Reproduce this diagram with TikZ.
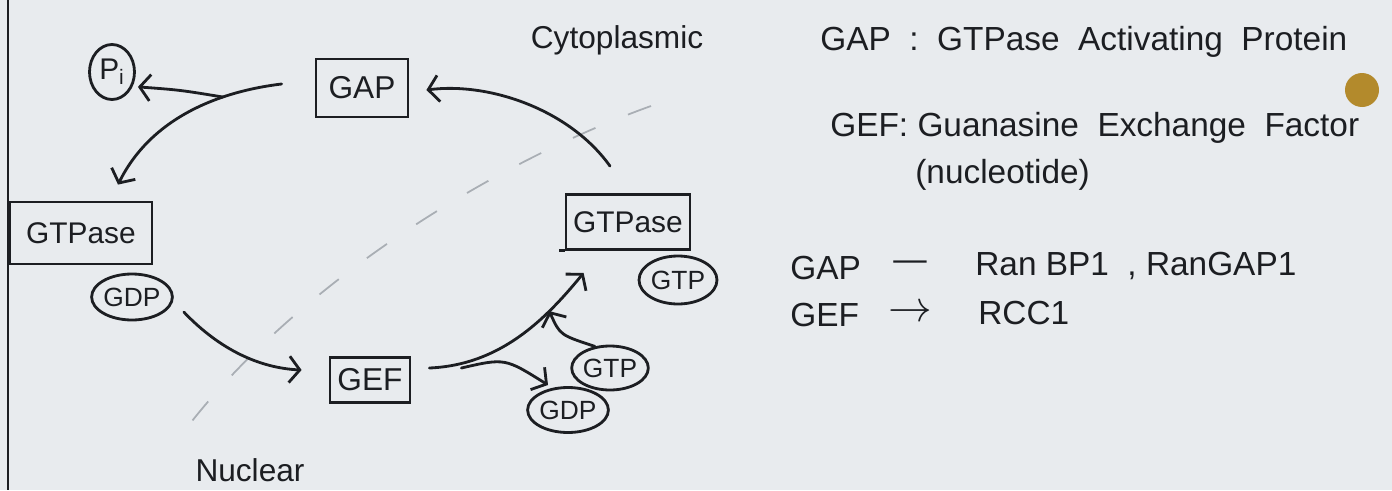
\documentclass[tikz,border=0pt]{standalone}
\usepackage{fontspec}
\setmainfont{Liberation Sans}
\usetikzlibrary{arrows.meta,shapes.geometric,calc}
\definecolor{paper}{HTML}{E8EBEE}
\definecolor{inkc}{HTML}{1C1E22}
\definecolor{goldc}{HTML}{B38A2C}
\definecolor{dashc}{HTML}{A9AEB4}
\begin{document}
\begin{tikzpicture}[x=0.02cm,y=-0.02cm,
  every node/.style={text=inkc},
  pen/.style={draw=inkc,line width=1.6pt},
  boxnode/.style={pen,rectangle,inner sep=0pt,font=\fontsize{18}{20}\selectfont},
  oval/.style={pen,ellipse,inner sep=0pt,font=\fontsize{15}{18}\selectfont},
  arr/.style={pen,-{Straight Barb[length=6pt,width=15pt]},line cap=round},
  lbl/.style={font=\fontsize{19}{22}\selectfont,inner sep=0pt},
]
\fill[paper] (0,0) rectangle (1392,490);
\useasboundingbox (0,0) rectangle (1392,490);

% margin line
\draw[pen] (8,0) -- (8,490);

% faint dashed separator
\draw[dashc,line width=1pt,dash pattern=on 14pt off 20pt]
  (651,106) .. controls (500,160) and (300,280) .. (185,430);

% nodes
\node[boxnode,minimum width=1.84cm,minimum height=1.16cm] (gap) at (362,88) {GAP};
\node[oval,minimum width=0.9cm,minimum height=1.1cm,font=\fontsize{17}{20}\selectfont] (pi) at (112,72) {P\textsubscript{i}};
\node[boxnode,minimum width=2.84cm,minimum height=1.24cm,font=\fontsize{17}{20}\selectfont] (gtl) at (81,233) {GTPase};
\node[oval,minimum width=1.44cm,minimum height=0.92cm] (gdl) at (132,297) {GDP};
\node[boxnode,minimum width=1.6cm,minimum height=0.9cm] (gef) at (370,380) {GEF};
\node[boxnode,minimum width=2.48cm,minimum height=1.1cm,font=\fontsize{17}{20}\selectfont] (gtr) at (628,222) {GTPase};
\draw[pen] (gtr.south west) -- ++(-6,0);
\node[oval,minimum width=1.56cm,minimum height=0.96cm] (gtpr) at (678,280) {GTP};
\node[oval,minimum width=1.44cm,minimum height=0.88cm] (gtpl) at (610,368) {GTP};
\node[oval,minimum width=1.52cm,minimum height=0.9cm] (gdpr) at (568,410) {GDP};

% labels
\node[lbl,font=\fontsize{18}{21}\selectfont] (cyto) at (617,40) {Cytoplasmic};
\node[lbl,font=\fontsize{18}{21}\selectfont] (nuc) at (250,470) {Nuclear};

% connector endpoints
\coordinate (a1) at ($(gap.west)+(-33,-4)$);
\coordinate (a2) at ($(gtl.north)+(37,-16)$);
\coordinate (b1) at ($(gdl.east)+(10,15)$);
\coordinate (b2) at ($(gef.west)+(-27,-10)$);
\coordinate (c1) at ($(gef.east)+(18,-12)$);
\coordinate (c2) at ($(gtr.south west)+(19,22)$);
\coordinate (d1) at ($(gtr.north)+(-18,-27)$);
\coordinate (d2) at ($(gap.east)+(17,2)$);

% GAP -> GTPase (left), branch to Pi
\draw[arr] (a1) .. controls (215,92) and (150,120) .. node[coordinate,pos=0.3] (br1) {} (a2);
\draw[arr,shorten >=3pt] (br1) .. controls (180,90) .. (pi.-35);

% GDP -> GEF
\draw[arr] (b1) .. controls (220,350) and (260,368) .. (b2);

% GEF -> GTPase (right), branch to GDP, GTP in
\draw[arr] (c1) .. controls (500,365) and (545,320) .. node[coordinate,pos=0.72] (br3) {} (c2);
\draw[arr,shorten >=3pt] ($(c1)+(32,0)$) .. controls (505,358) .. (gdpr.125);
\draw[arr] (gtpl.125) .. controls (560,335) .. (br3);

% GTPase (right) -> GAP
\draw[arr] (d1) .. controls (570,110) and (490,82) .. (d2);

% right-hand text
\node[lbl,anchor=west] (t1) at (820,42) {GAP\ \ :\ \ GTPase\ \ Activating\ \ Protein};
\node[lbl,anchor=west] (t2) at (830,128) {GEF:\ Guanasine\ \ Exchange\ \ Factor};
\node[lbl,anchor=west] (t3) at (915,175) {(nucleotide)};
\node[lbl,anchor=west] (t4) at (790,268) {GAP};
\node[lbl] (t5) at (910,266) {—};
\node[lbl,anchor=west] (t6) at (975,266) {Ran BP1\ \ ,\ RanGAP1};
\node[lbl,anchor=west] (t7) at (790,315) {GEF};
\node[lbl,font=\fontsize{30}{32}\selectfont] (t8) at (910,313) {$\rightarrow$};
\node[lbl,anchor=west] (t9) at (978,313) {RCC1};

% gold dot
\fill[goldc] (1362,90) circle (17);
\end{tikzpicture}
\end{document}
